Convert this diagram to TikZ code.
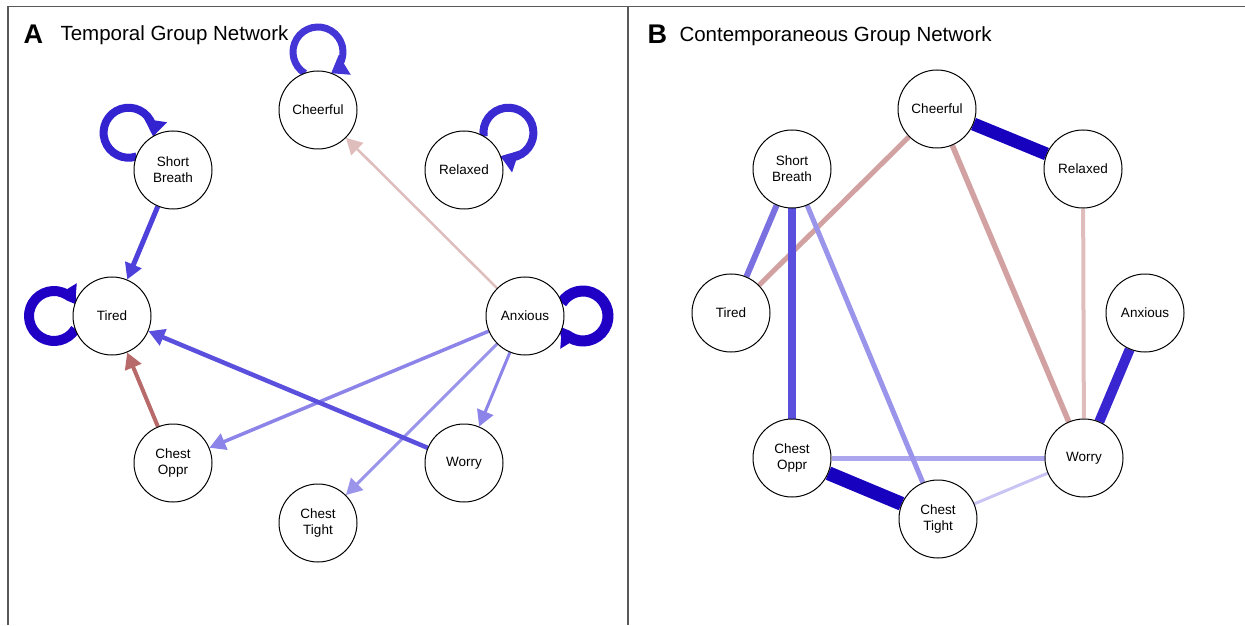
\documentclass[tikz,border=0pt]{standalone}
\usepackage{fontspec}
\setmainfont{Liberation Sans}
\usetikzlibrary{arrows.meta,calc,backgrounds}
\tikzset{>={Triangle[length=16pt,width=17pt]}}
\tikzset{
	sym/.style={circle,draw=black,line width=1pt,fill=white,minimum size=78pt,inner sep=0pt,align=center,font=\fontsize{13.5}{16}\selectfont},
	frame/.style={draw=black!65,line width=1.5pt},
	temp/.style={->,line width=#1},
	cont/.style={line width=#1},
	selfloop/.style={-{Triangle[length=16pt,width=22pt]},line width=#1},
	title/.style={anchor=base west,font=\fontsize{20.5}{24}\selectfont},
	letter/.style={anchor=base west,font=\fontsize{27}{27}\selectfont\bfseries}
}
\definecolor{loopA}{HTML}{4436D6}
\definecolor{loopB}{HTML}{3322D0}
\definecolor{loopC}{HTML}{3A2AD2}
\definecolor{loopD}{HTML}{2000C4}
\definecolor{bluedeep}{HTML}{1800BF}
\definecolor{bluestrong}{HTML}{3A26D0}
\definecolor{bluemid}{HTML}{4D40DB}
\definecolor{bluesoft}{HTML}{5A50DD}
\definecolor{bluepale}{HTML}{7A70E0}
\definecolor{bluelight}{HTML}{8C84E8}
\definecolor{bluefaint}{HTML}{9A94EA}
\definecolor{bluewash}{HTML}{ABA6EE}
\definecolor{bluemist}{HTML}{C8C4F4}
\definecolor{redmid}{HTML}{B86A6A}
\definecolor{redpale}{HTML}{D2A2A2}
\definecolor{redfaint}{HTML}{DFBDBD}
\newcommand{\drawloop}[4]{% node, direction, colour, width
	\pgfmathsetmacro{\la}{#2+148.4}
	\pgfmathsetmacro{\lb}{#2-148.4}
	\draw[selfloop=#4,#3] ($(#1)+(#2:58)+(\la:25)$) arc[start angle=\la,end angle=\lb,radius=25pt];}

\begin{document}
\begin{tikzpicture}[x=1pt,y=1pt]
	\useasboundingbox (0,0) rectangle (1245,625);
	\draw[frame] (8,0) -- (8,618.5) -- (1245,618.5);
	\draw[frame] (628,0) -- (628,618.5);
	\node[letter] (la) at (20,581) {A};
	\node[title] (ta) at (57,584) {Temporal Group Network};
	\node[letter] (lb) at (644,581.5) {B};
	\node[title] (tb) at (676,583.5) {Contemporaneous Group Network};
	% temporal network
	\foreach \n/\x/\y/\t in {ch/318/515/Cheerful, sb/173/455/{Short\\Breath}, re/464/455/Relaxed,
		ti/112/309/Tired, an/525/309/Anxious, co/173/162/{Chest\\Oppr}, wo/464/162/Worry, ct/318/102/{Chest\\Tight}}
		\node[sym] (a\n) at (\x,\y) {\t};
	% contemporaneous network
	\foreach \n/\x/\y/\t in {ch/937/516/Cheerful, sb/792/456/{Short\\Breath}, re/1083/456/Relaxed,
		ti/731/312/Tired, an/1145/312/Anxious, co/792/167/{Chest\\Oppr}, wo/1084/167/Worry, ct/938/106/{Chest\\Tight}}
		\node[sym] (b\n) at (\x,\y) {\t};
	\begin{scope}[on background layer]
		\draw[temp=2.5pt,redfaint] (aan) -- (ach);
		\draw[temp=3pt,bluefaint] (aan) -- (act);
		\draw[temp=3pt,bluelight] (aan) -- (awo);
		\draw[temp=3.5pt,bluelight] (aan) -- (aco);
		\draw[temp=4pt,redmid] (aco) -- (ati);
		\draw[temp=4.5pt,bluesoft] (awo) -- (ati);
		\draw[temp=5pt,bluemid] (asb) -- (ati);
		\drawloop{ach}{90}{loopA}{7pt}
		\drawloop{asb}{140}{loopB}{8pt}
		\drawloop{are}{40}{loopC}{8pt}
		\drawloop{ati}{180}{loopD}{10pt}
		\drawloop{aan}{0}{loopD}{11pt}
		\draw[cont=3pt,bluemist] (bct) -- (bwo);
		\draw[cont=4pt,redfaint] (bre) -- (bwo);
		\draw[cont=5pt,redpale] (bch) -- (bti);
		\draw[cont=5.5pt,redpale] (bch) -- (bwo);
		\draw[cont=5pt,bluewash] (bco) -- (bwo);
		\draw[cont=5pt,bluefaint] (bsb) -- (bct);
		\draw[cont=6pt,bluepale] (bsb) -- (bti);
		\draw[cont=8pt,bluesoft] (bsb) -- (bco);
		\draw[cont=10pt,bluestrong] (ban) -- (bwo);
		\draw[cont=13pt,bluedeep] (bch) -- (bre);
		\draw[cont=14pt,bluedeep] (bco) -- (bct);
	\end{scope}
\end{tikzpicture}
\end{document}
